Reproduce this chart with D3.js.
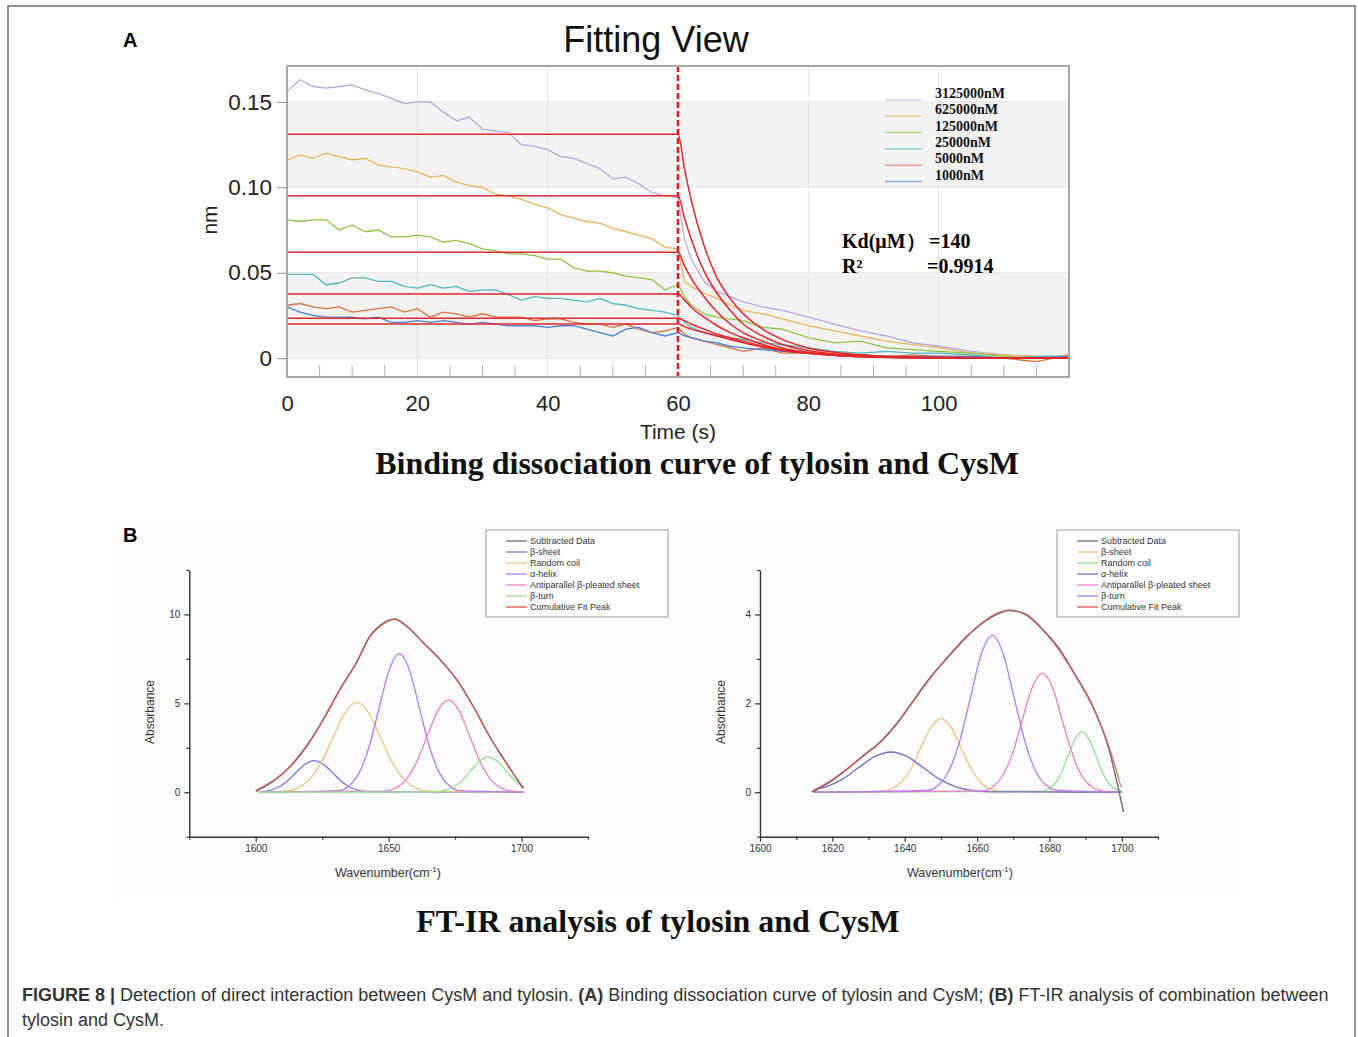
<!DOCTYPE html>
<html>
<head>
<meta charset="utf-8">
<script src="https://cdn.jsdelivr.net/npm/d3@7"></script>
<style>
body { margin: 0; background: #fff; }
text { font-family: Arial, "Liberation Sans", sans-serif; }
.serif { font-family: "Liberation Serif", "Times New Roman", serif; font-weight: bold; }
</style>
</head>
<body>
<div id="figure"></div>
<script>
// ---------- Panel A : binding / dissociation traces ----------
var concLabels = ["3125000nM", "625000nM", "125000nM", "25000nM", "5000nM", "1000nM"];
var concColors = ["#b6a6e2", "#e9b55a", "#8cc43e", "#4fb7bd", "#d8703c", "#4c82d2"];

var assocTime = [0,2,4,6,8,10,12,14,16,18,20,22,24,26,28,30,32,34,36,38,40,42,44,46,48,50,52,54,56,58,60];
var dissocTime = [61,62,64,66,68,70,73,76,80,84,88,92,96,100,105,110,115,120];

var trace3125000 = [0.156,0.163,0.159,0.158,0.159,0.160,0.157,0.155,0.152,0.149,0.150,0.150,0.144,0.139,0.141,0.134,0.133,0.132,0.125,0.124,0.122,0.118,0.117,0.114,0.111,0.105,0.106,0.102,0.097,0.095,0.094,
  0.070,0.058,0.045,0.039,0.036,0.033,0.030,0.028,0.024,0.020,0.016,0.013,0.009,0.007,0.004,0.002,0.001,0.001];
var trace625000 = [0.116,0.119,0.117,0.120,0.118,0.116,0.117,0.113,0.112,0.111,0.109,0.106,0.107,0.103,0.101,0.100,0.096,0.095,0.093,0.090,0.088,0.084,0.082,0.080,0.079,0.076,0.074,0.072,0.070,0.065,0.064,
  0.045,0.042,0.038,0.035,0.031,0.028,0.026,0.023,0.019,0.016,0.013,0.010,0.008,0.006,0.003,0.002,0.001,0.001];
var trace125000 = [0.081,0.080,0.081,0.081,0.075,0.078,0.074,0.075,0.071,0.071,0.072,0.071,0.068,0.069,0.067,0.064,0.063,0.061,0.061,0.060,0.058,0.058,0.053,0.051,0.051,0.050,0.048,0.047,0.046,0.040,0.043,
  0.036,0.031,0.026,0.024,0.023,0.022,0.018,0.017,0.012,0.009,0.010,0.006,0.005,0.004,0.003,0.001,0.000,0.001];
var trace25000 = [0.049,0.049,0.049,0.043,0.044,0.047,0.047,0.045,0.045,0.042,0.041,0.043,0.041,0.042,0.039,0.040,0.040,0.037,0.034,0.036,0.035,0.035,0.034,0.033,0.035,0.032,0.031,0.029,0.028,0.027,0.025,
  0.021,0.018,0.015,0.013,0.012,0.011,0.009,0.008,0.006,0.004,0.003,0.004,0.003,0.003,0.002,0.000,0.001,0.001];
var trace5000 = [0.031,0.032,0.030,0.029,0.030,0.027,0.028,0.029,0.030,0.027,0.029,0.024,0.027,0.026,0.024,0.026,0.024,0.024,0.024,0.022,0.023,0.023,0.021,0.020,0.020,0.018,0.020,0.017,0.015,0.016,0.018,
  0.014,0.012,0.010,0.008,0.006,0.004,0.006,0.003,0.003,0.002,0.002,0.001,0.002,0.001,0.001,0.000,-0.002,0.002];
var trace1000 = [0.030,0.027,0.025,0.024,0.024,0.024,0.023,0.024,0.021,0.021,0.022,0.021,0.022,0.021,0.020,0.021,0.020,0.019,0.019,0.019,0.018,0.019,0.019,0.017,0.015,0.013,0.017,0.018,0.015,0.013,0.015,
  0.013,0.012,0.010,0.009,0.007,0.006,0.005,0.004,0.003,0.002,0.002,0.001,0.001,0.001,0.001,0.000,0.000,0.001];
var traces = [trace3125000, trace625000, trace125000, trace25000, trace5000, trace1000];

// global fit (red)
var fitTime = [0,60,61,62,64,66,68,70,73,76,80,85,90,100,110,120];
var fit3125000 = [0.131,0.131,0.111,0.093,0.066,0.047,0.035,0.026,0.017,0.011,0.006,0.003,0.0015,0.0005,0.0002,0];
var fit625000 = [0.095,0.095,0.082,0.070,0.051,0.038,0.028,0.020,0.013,0.008,0.0045,0.002,0.001,0.0003,0.0001,0];
var fit125000 = [0.062,0.062,0.054,0.047,0.036,0.027,0.020,0.015,0.010,0.006,0.0035,0.0015,0.0008,0.0002,0.0001,0];
var fit25000 = [0.0375,0.0375,0.034,0.030,0.024,0.019,0.015,0.012,0.008,0.005,0.003,0.0015,0.0007,0.0002,0.0001,0];
var fit5000 = [0.0234,0.0234,0.022,0.020,0.017,0.014,0.012,0.010,0.007,0.005,0.003,0.0015,0.0008,0.0002,0.0001,0];
var fit1000 = [0.020,0.020,0.0185,0.017,0.015,0.013,0.011,0.009,0.0065,0.0045,0.0028,0.0014,0.0007,0.0002,0.0001,0];
var fits = [fit3125000, fit625000, fit125000, fit25000, fit5000, fit1000];
var fitBaseline = 0.0117;
var switchTime = 60;

var aYTicks = [0, 0.05, 0.10, 0.15];
var aXTicks = [0, 20, 40, 60, 80, 100];
var aMinorTicks = [5,10,15,25,30,35,45,50,55,65,70,75,85,90,95,105,110,115];
var aGrid = [20, 40, 80, 100];
var aBands = [[0.10, 0.15], [0, 0.05]];

// ---------- Panel B : FT-IR peak fitting ----------
var ftirNames = ["Subtracted Data", "β-sheet", "Random coil", "α-helix", "Antiparallel β-pleated sheet", "β-turn", "Cumulative Fit Peak"];
var leftColors = ["#6b6b6b", "#7676d8", "#f0c180", "#b27bf0", "#e97fc8", "#8fe48f", "#d9534a"];
var rightColors = ["#6b6b6b", "#f0c180", "#8fe48f", "#7070cf", "#e97fc8", "#b27bf0", "#d9534a"];

// left spectrum [wavenumber, absorbance]
var leftBetaSheet = [[1601,0.02],[1604.5,0.08],[1608,0.24],[1611.5,0.58],[1615,1.08],[1618.5,1.57],[1622,1.78],[1625.5,1.57],[1629,1.08],[1632.5,0.58],[1636,0.24],[1639.5,0.08],[1643,0.02],[1701,0]];
var leftRandomCoil = [[1601,0],[1611,0.06],[1615.5,0.22],[1620,0.68],[1624.5,1.64],[1629,3.06],[1633.5,4.46],[1638,5.05],[1642.5,4.46],[1647,3.06],[1651.5,1.64],[1656,0.68],[1660.5,0.22],[1665,0.06],[1701,0]];
var leftAlphaHelix = [[1601,0],[1631.2,0.09],[1635,0.34],[1638.8,1.06],[1642.6,2.53],[1646.4,4.73],[1650.2,6.88],[1654,7.8],[1657.8,6.88],[1661.6,4.73],[1665.4,2.53],[1669.2,1.06],[1673,0.34],[1676.8,0.09],[1701,0]];
var leftAntiparallel = [[1601,0],[1648.5,0.06],[1652.5,0.23],[1656.5,0.70],[1660.5,1.69],[1664.5,3.15],[1668.5,4.59],[1672.5,5.2],[1676.5,4.59],[1680.5,3.15],[1684.5,1.69],[1688.5,0.70],[1692.5,0.23],[1696.5,0.06],[1701,0.01]];
var leftBetaTurn = [[1601,0],[1667.4,0.02],[1670.8,0.09],[1674.1,0.27],[1677.5,0.64],[1680.8,1.20],[1684.2,1.75],[1687.5,1.98],[1690.9,1.75],[1694.2,1.20],[1697.6,0.64],[1701,0.27]];
var leftCumulative = [[1600,0.1],[1606.6,0.66],[1612.9,1.42],[1619.1,2.55],[1625.4,4.06],[1631.7,5.76],[1637.9,7.27],[1643,8.75],[1647,9.35],[1652.3,9.72],[1656.7,9.34],[1663,8.4],[1669.2,7.46],[1675.5,6.33],[1681.8,4.81],[1688,3.11],[1694.3,1.61],[1700.6,0.28]];
var leftSubtracted = [[1600,0.05],[1606.6,0.62],[1612.9,1.45],[1619.1,2.6],[1625.4,4.1],[1631.7,5.8],[1637.9,7.3],[1643,8.8],[1647,9.4],[1652.3,9.74],[1656.7,9.36],[1663,8.42],[1669.2,7.5],[1675.5,6.36],[1681.8,4.85],[1688,3.15],[1694.3,1.65],[1700.6,0.2]];

// right spectrum
var rightAlphaHelix = [[1615,0.06],[1618.2,0.12],[1622.7,0.29],[1627.2,0.55],[1631.7,0.80],[1636.2,0.906],[1640.7,0.80],[1645.2,0.55],[1649.7,0.29],[1654.2,0.12],[1658.7,0.04],[1663.2,0.01],[1700,0]];
var rightBetaSheet = [[1615,0],[1633.5,0.02],[1636.3,0.07],[1639,0.22],[1641.8,0.54],[1644.5,1.01],[1647.3,1.46],[1650,1.66],[1652.8,1.46],[1655.5,1.01],[1658.3,0.54],[1661,0.22],[1663.8,0.07],[1666.5,0.02],[1700,0]];
var rightBetaTurn = [[1615,0],[1646.2,0.04],[1649.2,0.15],[1652.2,0.48],[1655.2,1.15],[1658.2,2.14],[1661.2,3.12],[1664.2,3.53],[1667.2,3.12],[1670.2,2.14],[1673.2,1.15],[1676.2,0.48],[1679.2,0.15],[1682.2,0.04],[1700,0]];
var rightAntiparallel = [[1615,0],[1661.5,0.03],[1664.3,0.12],[1667,0.36],[1669.8,0.87],[1672.5,1.63],[1675.3,2.37],[1678,2.68],[1680.8,2.37],[1683.5,1.63],[1686.3,0.87],[1689,0.36],[1691.8,0.12],[1694.5,0.03],[1700,0]];
var rightRandomCoil = [[1615,0],[1677.6,0.02],[1679.5,0.06],[1681.4,0.18],[1683.3,0.44],[1685.2,0.83],[1687.1,1.20],[1689,1.36],[1690.9,1.20],[1692.8,0.83],[1694.7,0.44],[1696.6,0.18],[1698.5,0.06],[1700,0.03]];
var rightCumulative = [[1614.4,0.03],[1619.5,0.26],[1624.1,0.53],[1628.8,0.83],[1633.4,1.13],[1638,1.55],[1642.7,2.08],[1647.4,2.6],[1652,3.06],[1656.6,3.47],[1661.3,3.81],[1665.9,4.04],[1668.7,4.1],[1673.3,4.0],[1678,3.66],[1682.6,3.21],[1687.3,2.6],[1691.9,1.93],[1696.5,1.02],[1699.8,0.11]];
var rightSubtracted = [[1614.4,0.0],[1619.5,0.24],[1624.1,0.52],[1628.8,0.84],[1633.4,1.15],[1638,1.57],[1642.7,2.1],[1647.4,2.62],[1652,3.04],[1656.6,3.45],[1661.3,3.79],[1665.9,4.02],[1668.7,4.09],[1673.3,4.01],[1678,3.68],[1682.6,3.24],[1687.3,2.62],[1691.9,1.95],[1696.5,0.95],[1699,0.1],[1700.5,-0.45]];


var svg = d3.select("#figure").append("svg")
    .attr("width", 1358)
    .attr("height", 1037);

// outer figure frame
svg.append("rect").attr("x", 8).attr("y", 6).attr("width", 1347).attr("height", 1100)
    .attr("fill", "none").attr("stroke", "#6e6e6e").attr("stroke-width", 1.5);

drawPanelA();
drawPanelB();
drawCaption();

function drawPanelA() {
    var x = d3.scaleLinear().domain([0, 120]).range([287, 1069]);
    var y = d3.scaleLinear().domain([-0.011, 0.171]).range([377, 66]);
    var g = svg.append("g");

    g.append("text").attr("x", 123).attr("y", 47).attr("font-size", 20).attr("font-weight", "bold").text("A");
    g.append("text").attr("x", 656).attr("y", 52).attr("text-anchor", "middle").attr("font-size", 36)
        .attr("fill", "#111").text("Fitting View");

    // alternating shaded bands
    g.selectAll(".band").data(aBands).enter().append("rect")
        .attr("x", x(0)).attr("width", x(120) - x(0))
        .attr("y", function(d) { return y(d[1]); })
        .attr("height", function(d) { return y(d[0]) - y(d[1]); })
        .attr("fill", "#f3f3f3");

    g.selectAll(".hgrid").data(aYTicks).enter().append("line")
        .attr("x1", x(0)).attr("x2", x(120))
        .attr("y1", function(d) { return y(d); }).attr("y2", function(d) { return y(d); })
        .attr("stroke", "#e2e2e2");
    g.selectAll(".vgrid").data(aGrid).enter().append("line")
        .attr("x1", function(d) { return x(d); }).attr("x2", function(d) { return x(d); })
        .attr("y1", y(0.171)).attr("y2", y(-0.011))
        .attr("stroke", "#e2e2e2");

    // minor ticks along the bottom, pointing in
    g.selectAll(".minor").data(aMinorTicks).enter().append("line")
        .attr("x1", function(d) { return x(d); }).attr("x2", function(d) { return x(d); })
        .attr("y1", y(-0.011)).attr("y2", y(-0.011) - 12)
        .attr("stroke", "#b5b5b5");

    // measured traces
    var tAll = assocTime.concat(dissocTime);
    var line = d3.line()
        .x(function(d) { return x(d[0]); })
        .y(function(d) { return y(d[1]); });
    traces.forEach(function(tr, i) {
        var pts = tAll.map(function(t, k) { return [t, tr[k]]; });
        g.append("path").datum(pts).attr("d", line)
            .attr("fill", "none").attr("stroke", concColors[i]).attr("stroke-width", 1.3);
    });

    // global fit curves
    var fitLine = d3.line().curve(d3.curveMonotoneX)
        .x(function(d) { return x(d[0]); })
        .y(function(d) { return y(d[1]); });
    fits.forEach(function(f) {
        var pts = fitTime.map(function(t, k) { return [t, f[k]]; });
        g.append("path").datum(pts).attr("d", fitLine)
            .attr("fill", "none").attr("stroke", "#e3262a").attr("stroke-width", 1.5);
    });
    g.append("line").attr("x1", x(0)).attr("x2", x(0))
        .attr("y1", y(fitBaseline)).attr("y2", y(d3.max(fits, function(f) { return f[0]; })))
        .attr("stroke", "#e3262a").attr("stroke-width", 1.5);

    // association / dissociation switch
    g.append("line").attr("x1", x(switchTime)).attr("x2", x(switchTime))
        .attr("y1", y(0.171)).attr("y2", y(-0.011))
        .attr("stroke", "#e8141a").attr("stroke-width", 2.5).attr("stroke-dasharray", "6,3");

    // frame
    g.append("rect").attr("x", x(0)).attr("y", y(0.171))
        .attr("width", x(120) - x(0)).attr("height", y(-0.011) - y(0.171))
        .attr("fill", "none").attr("stroke", "#a8a8a8").attr("stroke-width", 2);

    var yAxis = g.append("g").attr("transform", "translate(" + x(0) + ",0)")
        .call(d3.axisLeft(y).tickValues(aYTicks).tickSize(10).tickPadding(5)
            .tickFormat(function(d) { return d === 0 ? "0" : d3.format(".2f")(d); }));
    yAxis.select(".domain").remove();
    yAxis.selectAll("line").attr("stroke", "#8a8a8a");
    yAxis.selectAll("text").attr("font-size", 22.5).attr("fill", "#222").attr("font-family", "Arial, 'Liberation Sans', sans-serif");

    var xAxis = g.append("g").attr("transform", "translate(0," + y(-0.011) + ")")
        .call(d3.axisBottom(x).tickValues(aXTicks).tickSize(0).tickPadding(18));
    xAxis.select(".domain").remove();
    xAxis.selectAll("text").attr("font-size", 22).attr("fill", "#222").attr("font-family", "Arial, 'Liberation Sans', sans-serif");

    g.append("text").attr("transform", "translate(217,220) rotate(-90)").attr("text-anchor", "middle")
        .attr("font-size", 21).attr("fill", "#222").text("nm");
    g.append("text").attr("x", 678).attr("y", 439).attr("text-anchor", "middle")
        .attr("font-size", 21).attr("fill", "#222").text("Time (s)");

    // legend
    var leg = g.append("g");
    concLabels.forEach(function(lab, i) {
        var ly = 100 + i * 16.3;
        leg.append("line").attr("x1", 885).attr("x2", 922).attr("y1", ly).attr("y2", ly)
            .attr("stroke", concColors[i]).attr("stroke-opacity", 0.6).attr("stroke-width", 1.5);
        leg.append("text").attr("class", "serif").attr("x", 935).attr("y", ly - 2)
            .attr("font-size", 14).attr("fill", "#111").text(lab);
    });

    g.append("text").attr("class", "serif").attr("x", 842).attr("y", 248).attr("font-size", 20).text("Kd(μM）");
    g.append("text").attr("class", "serif").attr("x", 929).attr("y", 248).attr("font-size", 20).text("=140");
    g.append("text").attr("class", "serif").attr("x", 842).attr("y", 273).attr("font-size", 20).text("R²");
    g.append("text").attr("class", "serif").attr("x", 927).attr("y", 273).attr("font-size", 20).text("=0.9914");

    g.append("text").attr("class", "serif").attr("x", 697).attr("y", 474).attr("text-anchor", "middle")
        .attr("font-size", 32).attr("fill", "#111").text("Binding dissociation curve of tylosin and CysM");
}

function drawFtir(g, cfg) {
    var x = d3.scaleLinear().domain(cfg.xDomain).range(cfg.xRange);
    var y = d3.scaleLinear().domain(cfg.yDomain).range([836.7, 570]);
    var line = d3.line().curve(d3.curveMonotoneX)
        .x(function(d) { return x(d[0]); })
        .y(function(d) { return y(d[1]); });

    cfg.components.forEach(function(c, i) {
        g.append("path").datum(c).attr("d", line).attr("fill", "none")
            .attr("stroke", cfg.colors[i + 1]).attr("stroke-width", 1.3);
    });
    g.append("path").datum(cfg.subtracted).attr("d", line).attr("fill", "none")
        .attr("stroke", cfg.colors[0]).attr("stroke-width", 1.4);
    g.append("path").datum(cfg.cumulative).attr("d", line).attr("fill", "none")
        .attr("stroke", cfg.colors[6]).attr("stroke-width", 1.2).attr("stroke-opacity", 0.85);

    // axes
    var fmt = d3.format("d");
    var xa = g.append("g").attr("transform", "translate(0," + y(cfg.yDomain[0]) + ")")
        .call(d3.axisBottom(x).tickValues(cfg.xMajor).tickFormat(fmt).tickSize(5).tickSizeOuter(0).tickPadding(3));
    g.append("g").attr("transform", "translate(0," + y(cfg.yDomain[0]) + ")")
        .call(d3.axisBottom(x).tickValues(cfg.xMinor).tickSize(3).tickFormat(""))
        .select(".domain").remove();
    var ya = g.append("g").attr("transform", "translate(" + x(cfg.xDomain[0]) + ",0)")
        .call(d3.axisLeft(y).tickValues(cfg.yMajor).tickFormat(fmt).tickSize(5).tickSizeOuter(0).tickPadding(4));
    g.append("g").attr("transform", "translate(" + x(cfg.xDomain[0]) + ",0)")
        .call(d3.axisLeft(y).tickValues(cfg.yMinor).tickSize(3).tickFormat(""))
        .select(".domain").remove();
    g.selectAll(".domain").attr("stroke", "#333").attr("stroke-width", 1.4);
    g.selectAll(".tick line").attr("stroke", "#333").attr("stroke-width", 1.2);
    xa.selectAll("text").attr("font-size", 10).attr("fill", "#333");
    ya.selectAll("text").attr("font-size", 10).attr("fill", "#333");

    g.append("text").attr("transform", "translate(" + (x(cfg.xDomain[0]) - 35) + ",712) rotate(-90)")
        .attr("text-anchor", "middle").attr("font-size", 12).attr("fill", "#333").text("Absorbance");
    var xt = g.append("text").attr("x", cfg.titleX).attr("y", 877).attr("text-anchor", "middle")
        .attr("font-size", 12.5).attr("fill", "#333");
    xt.append("tspan").text("Wavenumber(cm");
    xt.append("tspan").attr("dy", -5).attr("font-size", 8).text("-1");
    xt.append("tspan").attr("dy", 5).text(")");

    // legend box
    var lg = g.append("g").attr("transform", "translate(" + cfg.legendX + ",530)");
    lg.append("rect").attr("width", 182).attr("height", 87).attr("fill", "#fff")
        .attr("stroke", "#9a9a9a").attr("stroke-width", 1);
    ftirNames.forEach(function(n, i) {
        var ly = 11 + i * 11;
        lg.append("line").attr("x1", 20).attr("x2", 41).attr("y1", ly).attr("y2", ly)
            .attr("stroke", cfg.colors[i]).attr("stroke-width", 1.3);
        lg.append("text").attr("x", 44).attr("y", ly + 3).attr("font-size", 9).attr("fill", "#333").text(n);
    });
}

function drawPanelB() {
    var g = svg.append("g");
    g.append("rect").attr("x", 115).attr("y", 520).attr("width", 1125).attr("height", 378).attr("fill", "#fcfcfc");
    g.append("text").attr("x", 123).attr("y", 542).attr("font-size", 20).attr("font-weight", "bold").text("B");

    drawFtir(g.append("g"), {
        xDomain: [1575, 1725], xRange: [189.3, 588], yDomain: [-2.5, 12.5],
        xMajor: [1600, 1650, 1700], xMinor: [1575, 1625, 1675, 1725],
        yMajor: [0, 5, 10], yMinor: [-2.5, 2.5, 7.5, 12.5],
        components: [leftBetaSheet, leftRandomCoil, leftAlphaHelix, leftAntiparallel, leftBetaTurn],
        cumulative: leftCumulative, subtracted: leftSubtracted,
        colors: leftColors, legendX: 486, titleX: 388
    });
    drawFtir(g.append("g"), {
        xDomain: [1600, 1710], xRange: [760, 1158], yDomain: [-1, 5],
        xMajor: [1600, 1620, 1640, 1660, 1680, 1700], xMinor: [1610, 1630, 1650, 1670, 1690, 1710],
        yMajor: [0, 2, 4], yMinor: [-1, 1, 3, 5],
        components: [rightBetaSheet, rightRandomCoil, rightAlphaHelix, rightAntiparallel, rightBetaTurn],
        cumulative: rightCumulative, subtracted: rightSubtracted,
        colors: rightColors, legendX: 1057, titleX: 960
    });

    g.append("text").attr("class", "serif").attr("x", 658).attr("y", 932).attr("text-anchor", "middle")
        .attr("font-size", 32).attr("fill", "#111").text("FT-IR analysis of tylosin and CysM");
}

function drawCaption() {
    var c = svg.append("text").attr("x", 22).attr("y", 1001).attr("font-size", 18).attr("fill", "#333");
    c.append("tspan").attr("font-weight", "bold").text("FIGURE 8 | ");
    c.append("tspan").text("Detection of direct interaction between CysM and tylosin. ");
    c.append("tspan").attr("font-weight", "bold").text("(A)");
    c.append("tspan").text(" Binding dissociation curve of tylosin and CysM; ");
    c.append("tspan").attr("font-weight", "bold").text("(B)");
    c.append("tspan").text(" FT-IR analysis of combination between");
    svg.append("text").attr("x", 22).attr("y", 1026).attr("font-size", 18).attr("fill", "#333")
        .text("tylosin and CysM.");
}
</script>
</body>
</html>
